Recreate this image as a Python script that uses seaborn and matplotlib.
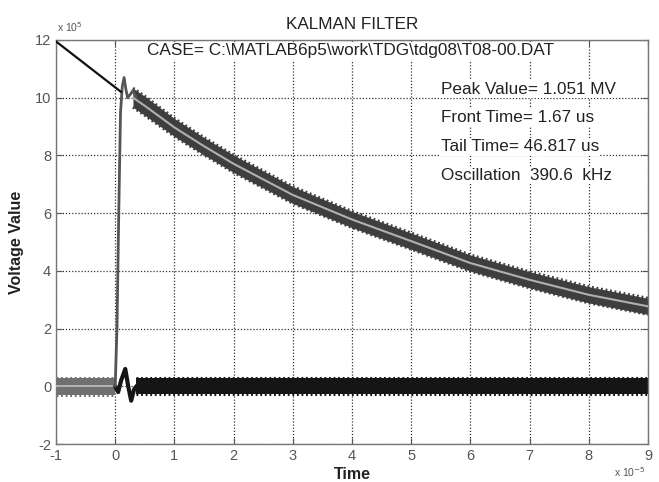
import numpy as np
import pandas as pd
import matplotlib
matplotlib.use("Agg")
import matplotlib.pyplot as plt
import seaborn as sns

# ---- data (time in units of 1e-5 s, voltage in units of 1e5 V) ----
init_x = [-1.0, 0.1]
init_y = [11.95, 10.2]

pre_x = [-1.0, 0.0]
pre_y = [0.0, 0.0]
pre_half = [0.3, 0.3]

rise_x = [0.0, 0.03, 0.06, 0.09, 0.12, 0.15, 0.18, 0.21, 0.25, 0.30, 0.35]
rise_y = [0.0, 2.0, 6.0, 9.5, 10.4, 10.7, 10.3, 10.0, 10.1, 10.25, 10.0]

decay_x = [0.3, 0.5, 1.0, 1.5, 2.0, 3.0, 4.0, 5.0, 6.0, 7.0, 8.0, 9.0]
decay_y = [10.0, 9.72, 8.97, 8.32, 7.71, 6.63, 5.78, 5.03, 4.27, 3.69, 3.17, 2.77]
decay_half = [0.33, 0.33, 0.31, 0.3, 0.3, 0.29, 0.28, 0.28, 0.28, 0.28, 0.28, 0.28]

osc_x = [0.0, 0.05, 0.1, 0.17, 0.22, 0.27, 0.32, 0.4]
osc_y = [0.0, -0.2, 0.2, 0.6, 0.0, -0.5, -0.1, 0.1]

res_x = [0.35, 9.0]
res_y = [0.0, 0.0]
res_half = [0.27, 0.27]

xticks = [-1, 0, 1, 2, 3, 4, 5, 6, 7, 8, 9]
yticks = [-2, 0, 2, 4, 6, 8, 10, 12]

info_lines = ["Peak Value= 1.051 MV", "Front Time= 1.67 us",
              "Tail Time= 46.817 us", "Oscillation  390.6  kHz"]
info_y = [10.3, 9.3, 8.3, 7.3]
case_text = r"CASE= C:\MATLAB6p5\work\TDG\tdg08\T08-00.DAT"

# ---- plotting ----
sns.set_style("white")
plt.rcParams['font.family'] = ['Liberation Sans', 'DejaVu Sans']

fig = plt.figure(figsize=(6.59, 4.82), dpi=100)
ax = fig.add_axes([56/659, 38/482, 592/659, 404/482])

serr = (0, (0.6, 0.9))  # serrated edge style to suggest noise texture

# pre-trigger noise band
lo = np.array(pre_y) - np.array(pre_half)
hi = np.array(pre_y) + np.array(pre_half)
ax.fill_between(pre_x, lo, hi, color="#707070", lw=0, zorder=2)
ax.plot(pre_x, hi, color="#707070", lw=2.2, ls=serr, zorder=2)
ax.plot(pre_x, lo, color="#707070", lw=2.2, ls=serr, zorder=2)
sns.lineplot(x=pre_x, y=pre_y, ax=ax, color="#b8b8b8", lw=1.3, zorder=3)

# residual noise band
lo = np.array(res_y) - np.array(res_half)
hi = np.array(res_y) + np.array(res_half)
ax.fill_between(res_x, lo, hi, color="#151515", lw=0, zorder=2)
ax.plot(res_x, hi, color="#151515", lw=2.2, ls=serr, zorder=2)
ax.plot(res_x, lo, color="#151515", lw=2.2, ls=serr, zorder=2)
sns.lineplot(x=osc_x, y=osc_y, ax=ax, color="#151515", lw=3, zorder=3, sort=False)

# main measured signal
lo = np.array(decay_y) - np.array(decay_half)
hi = np.array(decay_y) + np.array(decay_half)
ax.fill_between(decay_x, lo, hi, color="#3e3e3e", lw=0, zorder=2)
ax.plot(decay_x, hi, color="#3e3e3e", lw=2.2, ls=serr, zorder=2)
ax.plot(decay_x, lo, color="#3e3e3e", lw=2.2, ls=serr, zorder=2)
sns.lineplot(x=rise_x, y=rise_y, ax=ax, color="#555555", lw=2, zorder=3, sort=False)

# filtered estimate
sns.lineplot(x=decay_x, y=decay_y, ax=ax, color="#b0b0b0", lw=1.5, zorder=4)
sns.lineplot(x=init_x, y=init_y, ax=ax, color="#111111", lw=1.6, zorder=4)

ax.set_xlim(-1, 9)
ax.set_ylim(-2, 12)
ax.set_xticks(xticks)
ax.set_yticks(yticks)
ax.set_xticklabels([str(t) for t in xticks])
ax.set_yticklabels([str(t) for t in yticks])
ax.tick_params(direction="in", length=4, width=0.8, colors="#555555", labelsize=10.5,
               top=True, right=True, bottom=True, left=True, labelcolor="#555555")
ax.grid(True, linestyle=(0, (1, 1.5)), color="#333333", lw=0.9, zorder=1)
ax.set_axisbelow(True)
for s in ax.spines.values():
    s.set_color("#777777")
    s.set_linewidth(1.0)

ax.set_title("KALMAN FILTER", fontsize=12.3, pad=8, color="#222222")
ax.set_xlabel("Time", fontsize=11.5, fontweight="bold", color="#222222", labelpad=3)
ax.set_ylabel("Voltage Value", fontsize=11.5, fontweight="bold", color="#222222", labelpad=8)

bb = dict(facecolor="white", edgecolor="none", pad=1)
ax.text(0.53, 11.63, case_text, fontsize=12.4, va="center", ha="left", color="#222222", bbox=bb, zorder=6)
for t, yv in zip(info_lines, info_y):
    ax.text(5.5, yv, t, fontsize=12.3, va="center", ha="left", color="#222222", bbox=bb, zorder=6)

fig.text(57/659, 1 - 34/482, r"x 10$^5$", fontsize=7.5, color="#555555", va="bottom", ha="left")
fig.text(646/659, 1 - 472/482, r"x 10$^{-5}$", fontsize=7.5, color="#555555", va="center", ha="right")

fig.savefig("out.png", dpi=100)
